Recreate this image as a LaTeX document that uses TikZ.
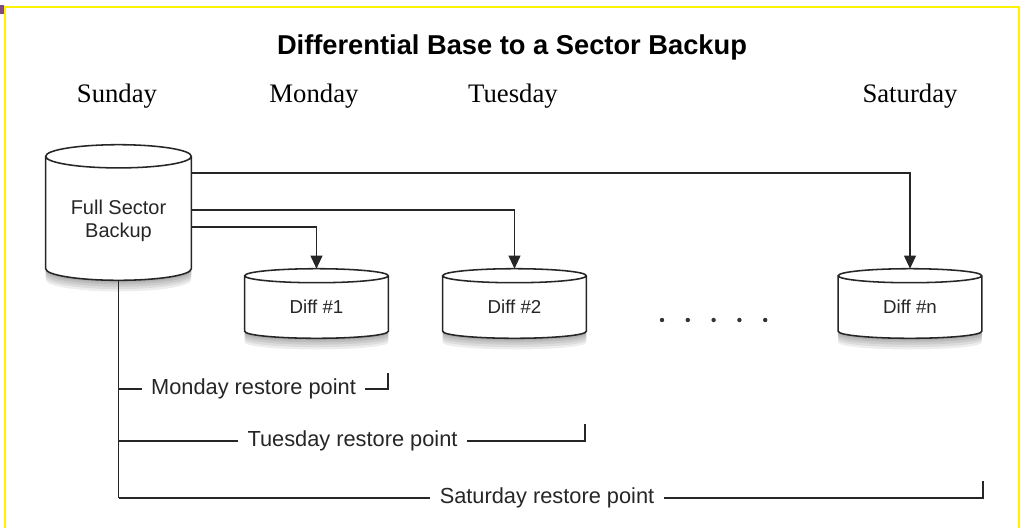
\documentclass[tikz,border=0pt]{standalone}
\usepackage{fontspec}
\setmainfont{Liberation Serif}
\setsansfont{Liberation Sans}
\usetikzlibrary{arrows.meta,shadows,calc}

% drum shape drawn around an (empty) node
\newcommand{\drum}[2]{% #1 node name, #2 cap radius
  \draw[drumline] let \p1=(#1.north west), \p2=(#1.south east), \n1={(\x2-\x1)/2} in
    ([yshift=-#2]#1.north west) -- ([yshift=#2]#1.south west)
    arc[start angle=180, end angle=360, x radius=\n1, y radius=#2]
    -- ([yshift=-#2]#1.north east)
    arc[start angle=0, end angle=180, x radius=\n1, y radius=#2]
    arc[start angle=180, end angle=360, x radius=\n1, y radius=#2];
}

\begin{document}
\begin{tikzpicture}[x=0.025cm, y=-0.025cm,
    softshadow/.style={drop shadow={shadow xshift=0cm, shadow yshift=#1, opacity=0.07, fill=black}},
    drumline/.style={line width=1.1pt, draw=black!85, fill=white,
      softshadow=-0.28cm, softshadow=-0.22cm, softshadow=-0.16cm, softshadow=-0.1cm, softshadow=-0.05cm},
    drumbox/.style={inner sep=0pt, minimum width=3.575cm, minimum height=1.725cm},
    conn/.style={line width=1pt, draw=black!85},
    tip/.style={conn, -{Triangle[width=0.3cm, length=0.33cm]}},
    boxtext/.style={font=\sffamily\fontsize{13.3}{16}\selectfont, text=black!85, align=center},
    restore/.style={font=\sffamily\fontsize{15.5}{18}\selectfont, text=black!85, fill=white, inner xsep=0.24cm},
    day/.style={font=\fontsize{19}{22}\selectfont, anchor=base}]

    % page and frame
    \useasboundingbox (0,0) rectangle (1025,528);
    \fill[white] (0,0) rectangle (1025,528);
    \fill[violet!60!black!70] (0,5) rectangle (4,14);
    \draw[yellow, line width=1.6pt] (5,528) -- (5,7) -- (1019,7) -- (1019,528);

    % title and days
    \node[font=\sffamily\bfseries\fontsize{19.4}{23}\selectfont] (title) at (512,47) {Differential Base to a Sector Backup};
    \node[day] (sun) at (117,102) {Sunday};
    \node[day] (mon) at (314,102) {Monday};
    \node[day] (tue) at (513,102) {Tuesday};
    \node[day] (sat) at (910,102) {Saturday};

    % full backup
    \node[inner sep=0pt, minimum width=3.625cm, minimum height=3.375cm] (full) at (118.5,212.5) {};
    \drum{full}{0.29cm}
    \node[boxtext, font=\sffamily\fontsize{14.2}{16.5}\selectfont] (fulltext) at ([yshift=-0.2cm]full.center) {Full Sector\\Backup};

    % differential backups
    \node[drumbox] (d1) at (316.5,303.5) {};
    \node[drumbox] (d2) at (514.5,303.5) {};
    \node[drumbox] (dn) at (910,303.5) {};
    \drum{d1}{0.175cm}
    \drum{d2}{0.175cm}
    \drum{dn}{0.175cm}
    \node[boxtext] (d1text) at ([yshift=-0.08cm]d1.center) {Diff \#1};
    \node[boxtext] (d2text) at ([yshift=-0.08cm]d2.center) {Diff \#2};
    \node[boxtext] (dntext) at ([yshift=-0.08cm]dn.center) {Diff \#n};

    % dots between
    \foreach \x in {0,1,2,3,4} {
        \fill[black!80] (662+25.8*\x,320) circle[radius=0.055cm];
    }

    % backup arrows
    \draw[tip] ([yshift=0.9875cm]full.east) -| (dn.north);
    \draw[tip] ([yshift=0.0625cm]full.east) -| (d2.north);
    \draw[tip] ([yshift=-0.3625cm]full.east) -| (d1.north);

    % restore points
    \coordinate (rootend) at (118.5,498);
    \coordinate (monend) at (388,389);
    \coordinate (tueend) at (585,441);
    \coordinate (satend) at (983,498);
    \draw[conn] (full.south) -- (rootend);
    \draw[conn] (full.south |- monend) -- (monend) -- ++(0,-16);
    \draw[conn] (full.south |- tueend) -- (tueend) -- ++(0,-17);
    \draw[conn] (rootend) -- (satend) -- ++(0,-17);
    \node[restore] (monrp) at (253.5,389) {Monday restore point};
    \node[restore] (tuerp) at (352.5,441) {Tuesday restore point};
    \node[restore] (satrp) at (547,498) {Saturday restore point};

\end{tikzpicture}
\end{document}
